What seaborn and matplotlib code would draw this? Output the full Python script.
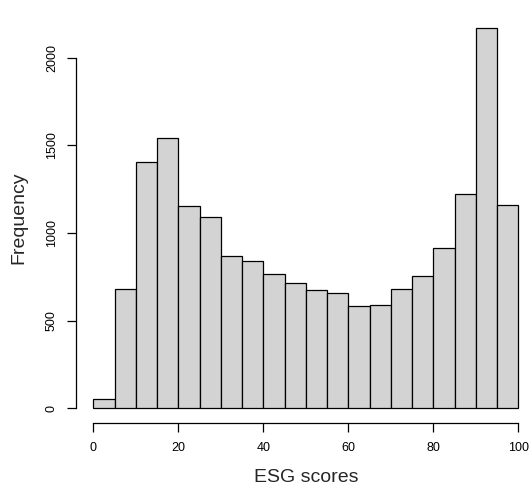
import numpy as np
import pandas as pd
import matplotlib
matplotlib.use("Agg")
import matplotlib.pyplot as plt
import seaborn as sns

# Histogram of ESG scores: 5-point bins from 0 to 100 with their counts
bin_edges = [0, 5, 10, 15, 20, 25, 30, 35, 40, 45, 50,
             55, 60, 65, 70, 75, 80, 85, 90, 95, 100]
counts = [51, 681, 1404, 1541, 1154, 1092, 869, 839, 766, 717,
          675, 656, 585, 588, 682, 755, 913, 1221, 2170, 1162]
x_ticks = [0, 20, 40, 60, 80, 100]
y_ticks = [0, 500, 1000, 1500, 2000]

centers = [(a + b) / 2 for a, b in zip(bin_edges[:-1], bin_edges[1:])]
df = pd.DataFrame({"score": centers, "n": counts})

sns.set_style("white")
plt.rcParams["font.family"] = ["Liberation Sans", "DejaVu Sans"]

W, H = 531, 486
fig = plt.figure(figsize=(W / 100, H / 100), dpi=100)
# plot region in pixels (left, right, top, bottom)
L, R, T, B = 76.3, 535.3, 12.8, 423.5
ax = fig.add_axes([L / W, 1 - B / H, (R - L) / W, (B - T) / H])
ax.patch.set_alpha(0)

sns.histplot(data=df, x="score", weights="n", bins=bin_edges, ax=ax,
             color="#D3D3D3", edgecolor="black", linewidth=0.9, alpha=1)

ax.set_xlim(-4, 104)
ax.set_ylim(-0.04 * max(counts), 1.04 * max(counts))

for s in ("top", "right"):
    ax.spines[s].set_visible(False)
ax.spines["left"].set_bounds(0, 2000)
ax.spines["bottom"].set_bounds(0, 100)
for s in ("left", "bottom"):
    ax.spines[s].set_linewidth(0.9)
    ax.spines[s].set_color("black")

ax.set_xticks(x_ticks)
ax.set_yticks(y_ticks)
ax.set_yticklabels([str(v) for v in y_ticks], rotation=90, va="center")
ax.tick_params(axis="both", which="major", bottom=True, left=True,
               direction="out", length=6.3, width=0.9,
               color="black", labelsize=9, labelcolor="black", pad=7)

ax.set_xlabel("ESG scores", fontsize=14)
ax.set_ylabel("Frequency", fontsize=14)
ax.xaxis.set_label_coords(0.5, (B - 477) / (B - T))
ax.xaxis.label.set_va("center")
ax.yaxis.set_label_coords((19 - L) / (R - L), 0.5)
ax.yaxis.label.set_va("center")

fig.savefig("out.png", dpi=100)
